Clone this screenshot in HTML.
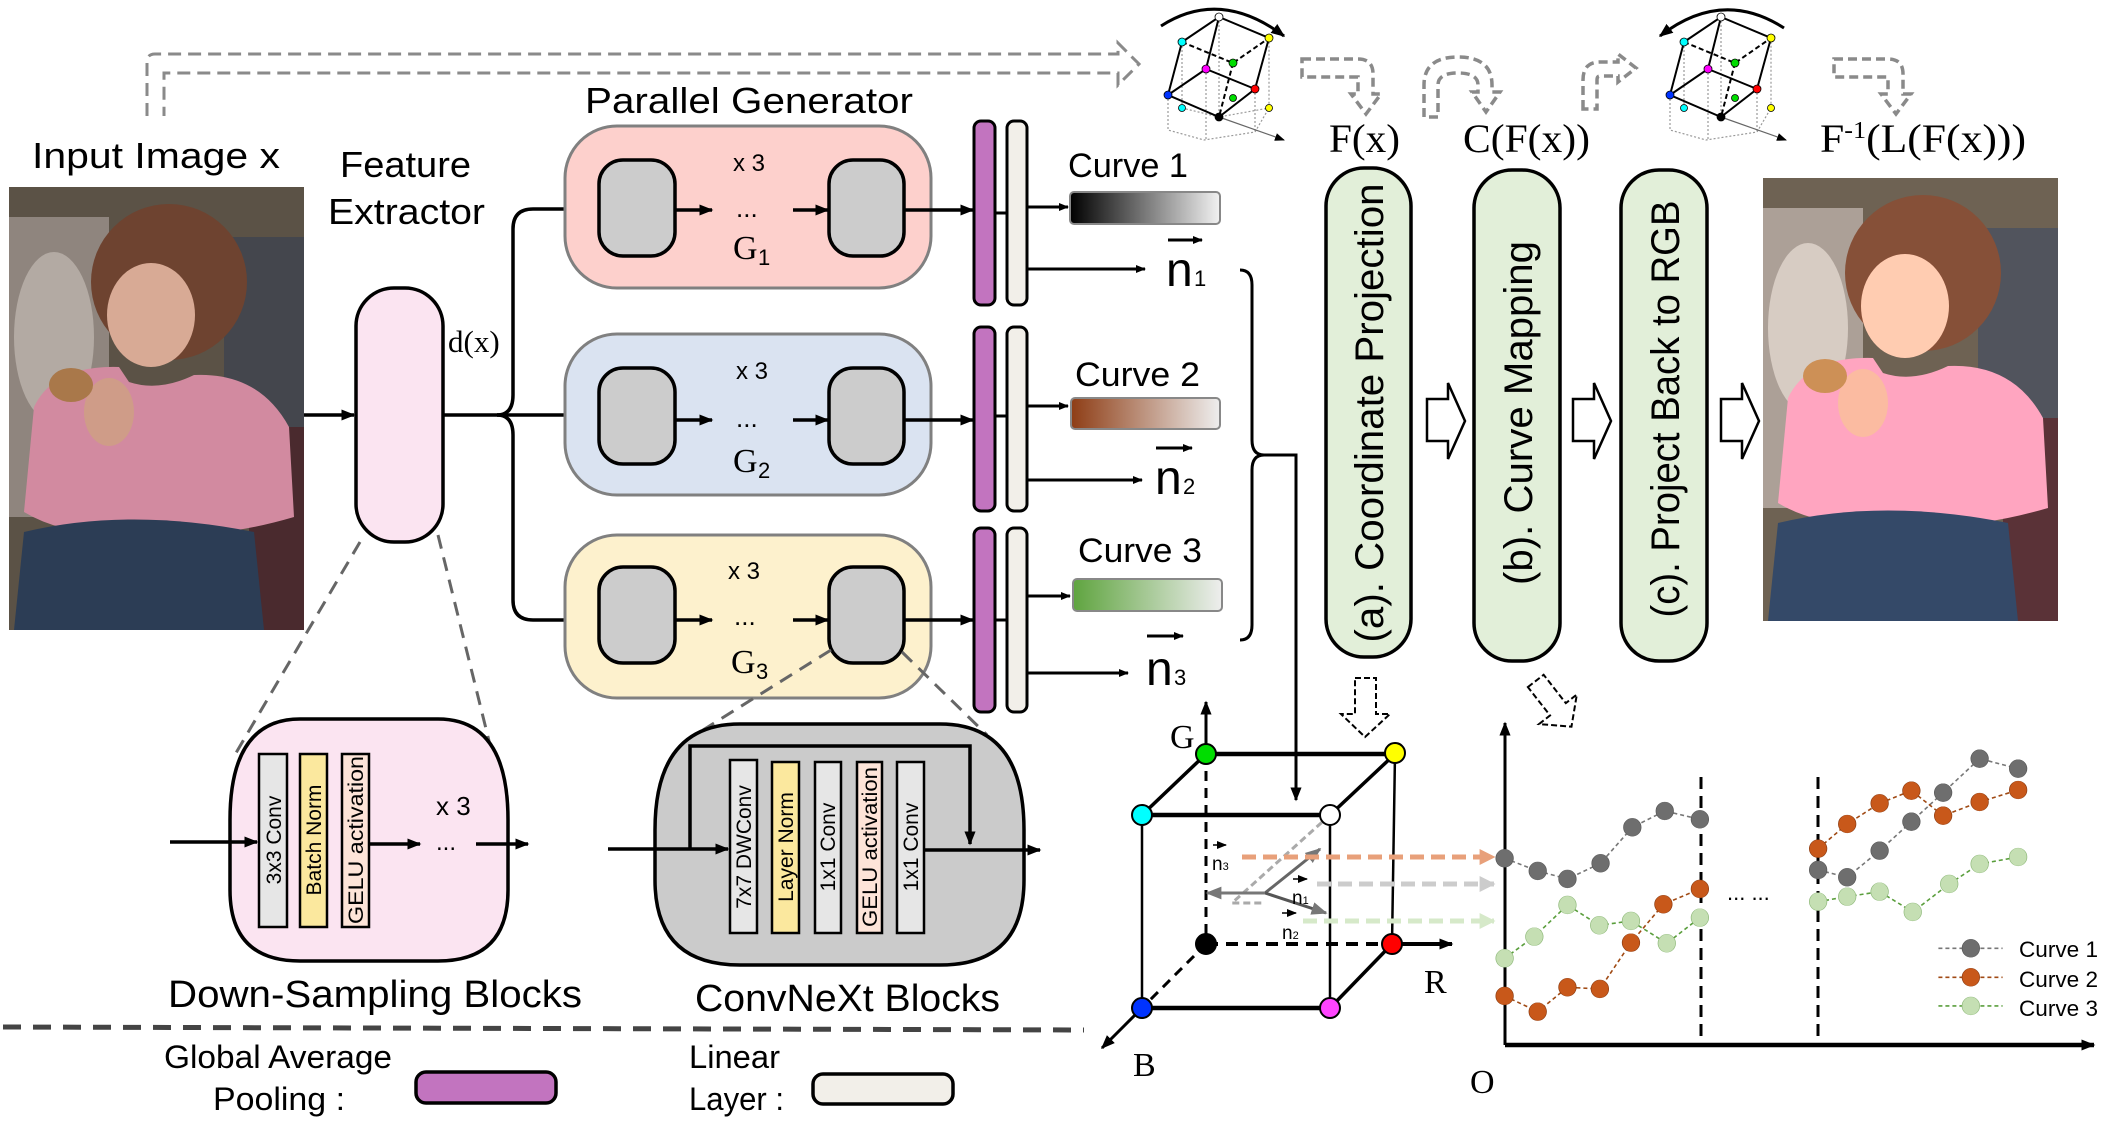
<!DOCTYPE html>
<html><head><meta charset="utf-8"><style>
html,body{margin:0;padding:0;background:#fff}
svg{display:block}
text{font-family:"Liberation Sans",sans-serif}
.serif{font-family:"Liberation Serif",serif}
.dj{font-family:"DejaVu Sans","Liberation Sans",sans-serif}
</style></head><body>
<svg width="2118" height="1128" viewBox="0 0 2118 1128" xmlns="http://www.w3.org/2000/svg">
<defs>
<marker id="a" viewBox="0 0 10 10" refX="9" refY="5" markerWidth="14" markerHeight="14" markerUnits="userSpaceOnUse" orient="auto"><path d="M0,1 L10,5 L0,9 z" fill="#000"/></marker>
<marker id="as" viewBox="0 0 10 10" refX="9" refY="5" markerWidth="10" markerHeight="10" markerUnits="userSpaceOnUse" orient="auto"><path d="M0,1 L10,5 L0,9 z" fill="#000"/></marker>
<marker id="ag" viewBox="0 0 10 10" refX="9" refY="5" markerWidth="16" markerHeight="16" markerUnits="userSpaceOnUse" orient="auto"><path d="M0,1 L10,5 L0,9 z" fill="#777"/></marker>
<marker id="ao" viewBox="0 0 10 10" refX="9" refY="5" markerWidth="16" markerHeight="16" markerUnits="userSpaceOnUse" orient="auto"><path d="M0,0 L10,5 L0,10 z" fill="#e8a07a"/></marker>
<marker id="al" viewBox="0 0 10 10" refX="9" refY="5" markerWidth="16" markerHeight="16" markerUnits="userSpaceOnUse" orient="auto"><path d="M0,0 L10,5 L0,10 z" fill="#ccc"/></marker>
<marker id="agr" viewBox="0 0 10 10" refX="9" refY="5" markerWidth="16" markerHeight="16" markerUnits="userSpaceOnUse" orient="auto"><path d="M0,0 L10,5 L0,10 z" fill="#d6e9c9"/></marker>
<linearGradient id="g1"><stop offset="0" stop-color="#000"/><stop offset="1" stop-color="#f2f2f2"/></linearGradient>
<linearGradient id="g2"><stop offset="0" stop-color="#8e3d15"/><stop offset="1" stop-color="#eeeeee"/></linearGradient>
<linearGradient id="g3"><stop offset="0" stop-color="#5fa43f"/><stop offset="1" stop-color="#eeeeee"/></linearGradient>
<g id="photo">
<rect x="0" y="0" width="295" height="443" fill="#5b5246"/>
<rect x="0" y="30" width="100" height="300" fill="#8f857e"/>
<ellipse cx="45" cy="150" rx="40" ry="85" fill="#b3aaa3"/>
<rect x="215" y="50" width="80" height="200" fill="#44464d"/>
<rect x="240" y="240" width="55" height="203" fill="#4a2a2e"/>
<ellipse cx="160" cy="95" rx="78" ry="78" fill="#6e4330"/>
<ellipse cx="142" cy="128" rx="44" ry="52" fill="#d8aa95"/>
<path d="M25,220 Q45,178 110,180 L120,195 Q150,205 185,188 Q250,185 280,240 L285,330 Q200,355 130,345 Q60,352 15,325 Z" fill="#d28aa0"/>
<ellipse cx="100" cy="225" rx="25" ry="34" fill="#cf9c88"/>
<ellipse cx="62" cy="198" rx="22" ry="17" fill="#a9784a"/>
<path d="M15,345 Q120,320 245,345 L255,443 L5,443 Z" fill="#2c3d55"/>
</g>
</defs>

<path d="M147,116 L147,62 Q147,54 155,54 L1118,54 L1118,43 L1139,64 L1118,85 L1118,73 L164,73 L164,116" fill="none" stroke="#8a8a8a" stroke-width="3" stroke-dasharray="13 7"/>

<text x="32" y="168" font-size="36" textLength="248" lengthAdjust="spacingAndGlyphs">Input Image x</text>
<use href="#photo" transform="translate(9,187)"/>

<text x="340" y="177" font-size="36" textLength="131" lengthAdjust="spacingAndGlyphs">Feature</text>
<text x="328" y="224" font-size="36" textLength="157" lengthAdjust="spacingAndGlyphs">Extractor</text>
<rect x="356" y="288" width="87" height="254" rx="38" fill="#fbe4f1" stroke="#000" stroke-width="3.5"/>
<text x="448" y="352" font-size="31" class="serif">d(x)</text>
<line x1="304" y1="415" x2="354" y2="415" stroke="#000" stroke-width="3.5" marker-end="url(#a)"/>
<path d="M443,415 L497,415 Q513,415 513,395 L513,229 Q513,209 533,209 L594,209" fill="none" stroke="#000" stroke-width="3.5" marker-end="url(#a)"/>
<path d="M497,415 Q513,415 513,435 L513,600 Q513,620 533,620 L594,620" fill="none" stroke="#000" stroke-width="3.5" marker-end="url(#a)"/>
<line x1="497" y1="415" x2="594" y2="415" stroke="#000" stroke-width="3.5" marker-end="url(#a)"/>

<text x="585" y="113" font-size="36" textLength="328" lengthAdjust="spacingAndGlyphs">Parallel Generator</text>

<g>
<rect x="565" y="126" width="366" height="162" rx="52" fill="#fdd0cc" stroke="#808080" stroke-width="3"/>
<rect x="599" y="160" width="76" height="96" rx="24" fill="#cccccc" stroke="#000" stroke-width="3.5"/>
<rect x="829" y="160" width="75" height="96" rx="24" fill="#cccccc" stroke="#000" stroke-width="3.5"/>
<line x1="675" y1="210" x2="712" y2="210" stroke="#000" stroke-width="3.5" marker-end="url(#a)"/>
<line x1="793" y1="210" x2="828" y2="210" stroke="#000" stroke-width="3.5" marker-end="url(#a)"/>
<line x1="904" y1="210" x2="973" y2="210" stroke="#000" stroke-width="3.5" marker-end="url(#a)"/>
<text x="733" y="171" font-size="24">x 3</text>
<text x="736" y="217" font-size="26">...</text>
</g>
<text x="733" y="259" font-size="34" class="serif">G</text><text x="758" y="265" font-size="22">1</text>
<g transform="translate(0,208)">
<rect x="565" y="126" width="366" height="161" rx="52" fill="#dae3f1" stroke="#808080" stroke-width="3"/>
<rect x="599" y="160" width="76" height="96" rx="24" fill="#cccccc" stroke="#000" stroke-width="3.5"/>
<rect x="829" y="160" width="75" height="96" rx="24" fill="#cccccc" stroke="#000" stroke-width="3.5"/>
<line x1="675" y1="212" x2="712" y2="212" stroke="#000" stroke-width="3.5" marker-end="url(#a)"/>
<line x1="793" y1="212" x2="828" y2="212" stroke="#000" stroke-width="3.5" marker-end="url(#a)"/>
<line x1="904" y1="212" x2="973" y2="212" stroke="#000" stroke-width="3.5" marker-end="url(#a)"/>
<text x="736" y="171" font-size="24">x 3</text>
<text x="736" y="219" font-size="26">...</text>
<text x="733" y="264" font-size="34" class="serif">G</text><text x="758" y="270" font-size="22">2</text>
</g>
<g transform="translate(0,409)">
<rect x="565" y="126" width="366" height="163" rx="52" fill="#fdf1cd" stroke="#808080" stroke-width="3"/>
<rect x="599" y="158" width="76" height="96" rx="24" fill="#cccccc" stroke="#000" stroke-width="3.5"/>
<rect x="829" y="158" width="75" height="96" rx="24" fill="#cccccc" stroke="#000" stroke-width="3.5"/>
<line x1="675" y1="211" x2="712" y2="211" stroke="#000" stroke-width="3.5" marker-end="url(#a)"/>
<line x1="793" y1="211" x2="828" y2="211" stroke="#000" stroke-width="3.5" marker-end="url(#a)"/>
<line x1="904" y1="211" x2="973" y2="211" stroke="#000" stroke-width="3.5" marker-end="url(#a)"/>
<text x="728" y="170" font-size="24">x 3</text>
<text x="734" y="216" font-size="26">...</text>
<text x="731" y="264" font-size="34" class="serif">G</text><text x="756" y="270" font-size="22">3</text>
</g>

<g stroke="#000" stroke-width="3">
<rect x="974" y="121" width="21" height="184" rx="7" fill="#c274bf"/>
<rect x="1007" y="121" width="20" height="184" rx="7" fill="#f2efe9"/>
<rect x="974" y="327" width="21" height="184" rx="7" fill="#c274bf"/>
<rect x="1007" y="327" width="20" height="184" rx="7" fill="#f2efe9"/>
<rect x="974" y="528" width="21" height="184" rx="7" fill="#c274bf"/>
<rect x="1007" y="528" width="20" height="184" rx="7" fill="#f2efe9"/>
</g>
<g stroke="#000" stroke-width="3">
<line x1="995" y1="213" x2="1007" y2="213"/><line x1="995" y1="416" x2="1007" y2="416"/><line x1="995" y1="620" x2="1007" y2="620"/>
</g>
<g stroke="#000" stroke-width="3">
<line x1="1027" y1="207" x2="1068" y2="207" marker-end="url(#as)"/>
<line x1="1027" y1="269" x2="1145" y2="269" marker-end="url(#as)"/>
<line x1="1027" y1="406" x2="1068" y2="406" marker-end="url(#as)"/>
<line x1="1027" y1="480" x2="1142" y2="480" marker-end="url(#as)"/>
<line x1="1027" y1="596" x2="1070" y2="596" marker-end="url(#as)"/>
<line x1="1027" y1="673" x2="1128" y2="673" marker-end="url(#as)"/>
</g>
<text x="1068" y="177" font-size="34" textLength="120" lengthAdjust="spacingAndGlyphs">Curve 1</text>
<rect x="1070" y="192" width="150" height="32" rx="4" fill="url(#g1)" stroke="#888" stroke-width="2"/>
<text x="1075" y="386" font-size="34" textLength="125" lengthAdjust="spacingAndGlyphs">Curve 2</text>
<rect x="1071" y="398" width="149" height="31" rx="4" fill="url(#g2)" stroke="#888" stroke-width="2"/>
<text x="1078" y="562" font-size="34" textLength="124" lengthAdjust="spacingAndGlyphs">Curve 3</text>
<rect x="1073" y="579" width="149" height="32" rx="4" fill="url(#g3)" stroke="#888" stroke-width="2"/>

<g font-size="48">
<text x="1166" y="286">n</text><text x="1194" y="286" font-size="22">1</text>
<line x1="1168" y1="240" x2="1202" y2="240" stroke="#000" stroke-width="3" marker-end="url(#as)"/>
<text x="1155" y="494">n</text><text x="1183" y="494" font-size="22">2</text>
<line x1="1156" y1="448" x2="1192" y2="448" stroke="#000" stroke-width="3" marker-end="url(#as)"/>
<text x="1146" y="685">n</text><text x="1174" y="685" font-size="22">3</text>
<line x1="1147" y1="636" x2="1183" y2="636" stroke="#000" stroke-width="3" marker-end="url(#as)"/>
</g>
<path d="M1240,270 Q1252,270 1252,285 L1252,440 Q1252,455 1264,455 Q1252,455 1252,470 L1252,625 Q1252,640 1240,640" fill="none" stroke="#000" stroke-width="3"/>
<path d="M1264,455 L1296,455 L1296,800" fill="none" stroke="#000" stroke-width="3" marker-end="url(#a)"/>

<text x="1329" y="152" font-size="40" class="serif" textLength="71" lengthAdjust="spacingAndGlyphs">F(x)</text>
<text x="1463" y="152" font-size="40" class="serif" textLength="127" lengthAdjust="spacingAndGlyphs">C(F(x))</text>
<text x="1820" y="152" font-size="40" class="serif" textLength="206" lengthAdjust="spacingAndGlyphs">F<tspan font-size="24" dy="-14">-1</tspan><tspan dy="14">(L(F(x)))</tspan></text>
<g stroke="#000" stroke-width="3.5" fill="#e2efd9">
<rect x="1326" y="168" width="85" height="489" rx="38"/>
<rect x="1474" y="170" width="86" height="491" rx="38"/>
<rect x="1621" y="170" width="86" height="491" rx="38"/>
</g>
<g font-size="40" class="dj" text-anchor="middle">
<text transform="translate(1383,413) rotate(-90)" textLength="459" lengthAdjust="spacingAndGlyphs">(a). Coordinate Projection</text>
<text transform="translate(1532,413) rotate(-90)" textLength="344" lengthAdjust="spacingAndGlyphs">(b). Curve Mapping</text>
<text transform="translate(1679,409) rotate(-90)" textLength="417" lengthAdjust="spacingAndGlyphs">(c). Project Back to RGB</text>
</g>
<g fill="#fff" stroke="#000" stroke-width="2.5">
<path d="M1427,399 L1448,399 L1448,383 L1465,421 L1448,459 L1448,441 L1427,441 Z"/>
<path d="M1573,399 L1594,399 L1594,383 L1611,421 L1594,459 L1594,441 L1573,441 Z"/>
<path d="M1721,399 L1742,399 L1742,383 L1759,421 L1742,459 L1742,441 L1721,441 Z"/>
</g>
<use href="#photo" transform="translate(1763,178)" style="filter:brightness(1.2) saturate(1.05)"/>

<g>
<path d="M1161,26 Q1220,-12 1284,36" fill="none" stroke="#000" stroke-width="3" marker-end="url(#a)"/>
<g stroke="#999" stroke-width="1.2" stroke-dasharray="2 2" fill="none">
<path d="M1168,95 L1168,130 L1204,140 L1255,132 L1269,108 L1269,38"/>
<line x1="1182" y1="42" x2="1182" y2="108"/><line x1="1219" y1="17" x2="1219" y2="117"/><line x1="1206" y1="69" x2="1206" y2="140"/><line x1="1255" y1="89" x2="1255" y2="132"/>
<path d="M1182,108 L1219,117 L1269,108"/>
</g>
<line x1="1219" y1="117" x2="1284" y2="140" stroke="#666" stroke-width="1.2" marker-end="url(#as)"/>
<g stroke="#000" stroke-width="2" fill="none">
<path d="M1182,42 L1219,17 L1269,38 L1255,89 L1219,117 L1168,95 L1182,42"/>
<path d="M1219,17 L1206,69 L1168,95 M1206,69 L1255,89"/>
<path d="M1182,42 L1233,63 L1269,38 M1233,63 L1219,117" stroke-dasharray="5 3"/>
</g>
<g stroke="#000" stroke-width="0.8">
<circle cx="1219" cy="17" r="4" fill="#fff"/><circle cx="1269" cy="38" r="4" fill="#ff0"/><circle cx="1182" cy="42" r="4" fill="#0ff"/><circle cx="1206" cy="69" r="4" fill="#f0f"/><circle cx="1233" cy="63" r="4" fill="#0d0"/><circle cx="1168" cy="95" r="4" fill="#03f"/><circle cx="1255" cy="89" r="4" fill="#f00"/><circle cx="1219" cy="117" r="4" fill="#000"/><circle cx="1182" cy="108" r="3.5" fill="#0ff"/><circle cx="1269" cy="108" r="3.5" fill="#ff0"/><circle cx="1233" cy="98" r="3.5" fill="#0d0"/>
</g>
</g>
<g transform="translate(502,0)">
<g stroke="#999" stroke-width="1.2" stroke-dasharray="2 2" fill="none">
<path d="M1168,95 L1168,130 L1204,140 L1255,132 L1269,108 L1269,38"/>
<line x1="1182" y1="42" x2="1182" y2="108"/><line x1="1219" y1="17" x2="1219" y2="117"/><line x1="1206" y1="69" x2="1206" y2="140"/><line x1="1255" y1="89" x2="1255" y2="132"/>
</g>
<line x1="1219" y1="117" x2="1284" y2="140" stroke="#666" stroke-width="1.2" marker-end="url(#as)"/>
<g stroke="#000" stroke-width="2" fill="none">
<path d="M1182,42 L1219,17 L1269,38 L1255,89 L1219,117 L1168,95 L1182,42"/>
<path d="M1219,17 L1206,69 L1168,95 M1206,69 L1255,89"/>
<path d="M1182,42 L1233,63 L1269,38 M1233,63 L1219,117" stroke-dasharray="5 3"/>
</g>
<g stroke="#000" stroke-width="0.8">
<circle cx="1219" cy="17" r="4" fill="#fff"/><circle cx="1269" cy="38" r="4" fill="#ff0"/><circle cx="1182" cy="42" r="4" fill="#0ff"/><circle cx="1206" cy="69" r="4" fill="#f0f"/><circle cx="1233" cy="63" r="4" fill="#0d0"/><circle cx="1168" cy="95" r="4" fill="#03f"/><circle cx="1255" cy="89" r="4" fill="#f00"/><circle cx="1219" cy="117" r="4" fill="#000"/><circle cx="1182" cy="108" r="3.5" fill="#0ff"/><circle cx="1269" cy="108" r="3.5" fill="#ff0"/><circle cx="1233" cy="98" r="3.5" fill="#0d0"/>
</g>
<path d="M1282,28 Q1220,-12 1158,36" fill="none" stroke="#000" stroke-width="3" marker-end="url(#a)"/>
</g>
<g fill="none" stroke="#8a8a8a" stroke-width="3.5" stroke-dasharray="9 5">
<path d="M1302,59 L1358,59 Q1373,59 1373,74 L1373,94 L1381,94 L1366,114 L1351,94 L1358,94 L1358,77 L1302,77 Z"/>
<path d="M1424,117 L1424,85 Q1424,57 1458,57 Q1492,57 1492,85 L1492,92 L1500,92 L1486,112 L1472,92 L1478,92 L1478,85 Q1478,73 1458,73 Q1438,73 1438,85 L1438,117 Z"/>
<path d="M1583,109 L1583,80 Q1583,62 1600,62 L1618,62 L1618,54 L1636,68 L1618,82 L1618,76 L1600,76 Q1597,76 1597,80 L1597,109 Z"/>
<path d="M1834,59 L1888,59 Q1903,59 1903,74 L1903,94 L1911,94 L1896,114 L1881,94 L1888,94 L1888,77 L1834,77 Z"/>
</g>

<g stroke="#666" stroke-width="3" stroke-dasharray="14 9">
<line x1="360" y1="542" x2="233" y2="758"/><line x1="438" y1="535" x2="492" y2="753"/>
<line x1="831" y1="650" x2="703" y2="730"/><line x1="902" y1="652" x2="987" y2="735"/>
</g>
<path d="M230,820 Q230,719 300,719 L438,719 Q508,719 508,820 L508,890 Q508,961 438,961 L300,961 Q230,961 230,890 Z" fill="#fbe4f1" stroke="#000" stroke-width="3.5"/>
<g stroke="#000" stroke-width="2.5">
<rect x="259" y="754" width="28" height="173" fill="#e6e6e6"/>
<rect x="300" y="754" width="27" height="173" fill="#fbe89e"/>
<rect x="342" y="754" width="27" height="173" fill="#fde4d8"/>
</g>
<g font-size="21" class="dj" text-anchor="middle">
<text transform="translate(281,840) rotate(-90)">3x3 Conv</text>
<text transform="translate(321,840) rotate(-90)">Batch Norm</text>
<text transform="translate(363,840) rotate(-90)" textLength="168" lengthAdjust="spacingAndGlyphs">GELU activation</text>
</g>
<line x1="170" y1="842" x2="257" y2="842" stroke="#000" stroke-width="3.5" marker-end="url(#a)"/>
<line x1="369" y1="844" x2="420" y2="844" stroke="#000" stroke-width="3.5" marker-end="url(#a)"/>
<text x="436" y="850" font-size="24">...</text>
<line x1="476" y1="844" x2="528" y2="844" stroke="#000" stroke-width="3.5" marker-end="url(#a)"/>
<text x="436" y="815" font-size="26">x 3</text>

<path d="M655,830 Q655,724 740,724 L940,724 Q1024,724 1024,830 L1024,880 Q1024,965 940,965 L740,965 Q655,965 655,880 Z" fill="#cbcbcb" stroke="#000" stroke-width="3.5"/>
<g stroke="#000" stroke-width="2.5">
<rect x="730" y="760" width="27" height="173" fill="#e6e6e6"/>
<rect x="772" y="762" width="27" height="171" fill="#fbe89e"/>
<rect x="815" y="762" width="26" height="171" fill="#e6e6e6"/>
<rect x="857" y="762" width="25" height="171" fill="#fde4d8"/>
<rect x="897" y="762" width="27" height="171" fill="#e6e6e6"/>
</g>
<g font-size="21" class="dj" text-anchor="middle">
<text transform="translate(751,847) rotate(-90)">7x7 DWConv</text>
<text transform="translate(793,847) rotate(-90)">Layer Norm</text>
<text transform="translate(835,847) rotate(-90)">1x1 Conv</text>
<text transform="translate(877,847) rotate(-90)" textLength="160" lengthAdjust="spacingAndGlyphs">GELU activation</text>
<text transform="translate(918,847) rotate(-90)">1x1 Conv</text>
</g>
<line x1="608" y1="849" x2="728" y2="849" stroke="#000" stroke-width="3.5" marker-end="url(#a)"/>
<path d="M690,849 L690,746 L970,746 L970,844" fill="none" stroke="#000" stroke-width="3.5" marker-end="url(#a)"/>
<line x1="924" y1="850" x2="1040" y2="850" stroke="#000" stroke-width="3.5" marker-end="url(#a)"/>

<text x="168" y="1007" font-size="38" textLength="414" lengthAdjust="spacingAndGlyphs">Down-Sampling Blocks</text>
<text x="695" y="1011" font-size="38" textLength="305" lengthAdjust="spacingAndGlyphs">ConvNeXt Blocks</text>
<line x1="3" y1="1027" x2="1084" y2="1030" stroke="#444" stroke-width="5" stroke-dasharray="18 12"/>
<text x="164" y="1068" font-size="32" textLength="228" lengthAdjust="spacingAndGlyphs">Global Average</text>
<text x="213" y="1110" font-size="32" textLength="132" lengthAdjust="spacingAndGlyphs">Pooling :</text>
<rect x="416" y="1072" width="140" height="31" rx="10" fill="#c274bf" stroke="#000" stroke-width="3.5"/>
<text x="689" y="1068" font-size="32" textLength="91" lengthAdjust="spacingAndGlyphs">Linear</text>
<text x="689" y="1110" font-size="32" textLength="95" lengthAdjust="spacingAndGlyphs">Layer :</text>
<rect x="813" y="1074" width="140" height="30" rx="10" fill="#f2efe9" stroke="#000" stroke-width="3.5"/>

<line x1="1206" y1="754" x2="1206" y2="702" stroke="#000" stroke-width="3" marker-end="url(#a)"/>
<line x1="1392" y1="944" x2="1452" y2="944" stroke="#000" stroke-width="4" marker-end="url(#a)"/>
<line x1="1142" y1="1008" x2="1102" y2="1048" stroke="#000" stroke-width="3" marker-end="url(#a)"/>
<g stroke="#000" fill="none">
<line x1="1206" y1="754" x2="1206" y2="944" stroke-width="3" stroke-dasharray="10 7"/>
<line x1="1206" y1="944" x2="1392" y2="944" stroke-width="4" stroke-dasharray="12 8"/>
<line x1="1206" y1="944" x2="1142" y2="1008" stroke-width="3" stroke-dasharray="10 7"/>
<line x1="1206" y1="754" x2="1395" y2="754" stroke-width="4.5"/>
<line x1="1142" y1="815" x2="1330" y2="815" stroke-width="4.5"/>
<line x1="1142" y1="1008" x2="1330" y2="1008" stroke-width="4.5"/>
<line x1="1206" y1="754" x2="1142" y2="815" stroke-width="3.5"/>
<line x1="1395" y1="754" x2="1330" y2="815" stroke-width="3.5"/>
<line x1="1392" y1="944" x2="1330" y2="1008" stroke-width="3.5"/>
<line x1="1142" y1="815" x2="1142" y2="1008" stroke-width="2.5"/>
<line x1="1330" y1="815" x2="1330" y2="1008" stroke-width="2.5"/>
<line x1="1395" y1="754" x2="1392" y2="944" stroke-width="2.5"/>
</g>
<g fill="none" stroke-width="3">
<path d="M1330,815 L1232,903 L1265,903" stroke="#aaa" stroke-dasharray="7 4"/>
<line x1="1265" y1="893" x2="1320" y2="849" stroke="#666" marker-end="url(#ag)"/>
<line x1="1265" y1="893" x2="1326" y2="913" stroke="#555" marker-end="url(#ag)"/>
<line x1="1265" y1="893" x2="1207" y2="893" stroke="#777" marker-end="url(#ag)"/>
</g>
<g stroke-width="5" stroke-dasharray="14 7">
<line x1="1242" y1="857" x2="1494" y2="857" stroke="#e8a07a" marker-end="url(#ao)"/>
<line x1="1317" y1="884" x2="1494" y2="884" stroke="#ccc" marker-end="url(#al)"/>
<line x1="1303" y1="921" x2="1494" y2="921" stroke="#d6e9c9" marker-end="url(#agr)"/>
</g>
<g font-size="19">
<text x="1212" y="870">n<tspan font-size="11">3</tspan></text>
<line x1="1213" y1="845" x2="1226" y2="845" stroke="#000" stroke-width="1.5" marker-end="url(#as)"/>
<text x="1292" y="904">n<tspan font-size="11">1</tspan></text>
<line x1="1293" y1="879" x2="1307" y2="879" stroke="#000" stroke-width="1.5" marker-end="url(#as)"/>
<text x="1282" y="939">n<tspan font-size="11">2</tspan></text>
<line x1="1282" y1="913" x2="1296" y2="913" stroke="#000" stroke-width="1.5" marker-end="url(#as)"/>
</g>
<g stroke="#000" stroke-width="2">
<ellipse cx="1206" cy="754" rx="10" ry="10" fill="#0d0"/>
<ellipse cx="1395" cy="753" rx="10" ry="10" fill="#ff0"/>
<ellipse cx="1142" cy="815" rx="10" ry="10" fill="#0ff"/>
<ellipse cx="1330" cy="815" rx="10" ry="10" fill="#fff"/>
<ellipse cx="1206" cy="944" rx="10" ry="10" fill="#000"/>
<ellipse cx="1392" cy="944" rx="10" ry="10" fill="#f00"/>
<ellipse cx="1142" cy="1008" rx="10" ry="10" fill="#03f"/>
<ellipse cx="1330" cy="1008" rx="10" ry="10" fill="#f4f"/>
</g>
<text x="1170" y="748" font-size="34" class="serif">G</text>
<text x="1424" y="993" font-size="34" class="serif">R</text>
<text x="1133" y="1076" font-size="34" class="serif">B</text>

<path d="M1355,678 L1376,678 L1376,714 L1390,714 L1365,737 L1341,714 L1355,714 Z" fill="#fff" stroke="#000" stroke-width="2" stroke-dasharray="6 3"/>
<g transform="translate(1553,703) rotate(-38)">
<path d="M-10,-28 L10,-28 L10,8 L24,8 L0,30 L-24,8 L-10,8 Z" fill="#fff" stroke="#000" stroke-width="2" stroke-dasharray="6 3"/>
</g>

<line x1="1505" y1="1045" x2="1505" y2="723" stroke="#000" stroke-width="3" marker-end="url(#a)"/>
<line x1="1505" y1="1045" x2="2094" y2="1045" stroke="#000" stroke-width="4.5" marker-end="url(#a)"/>
<line x1="1701" y1="777" x2="1701" y2="1042" stroke="#000" stroke-width="3" stroke-dasharray="12 7"/>
<line x1="1818" y1="777" x2="1818" y2="1042" stroke="#000" stroke-width="3" stroke-dasharray="12 7"/>
<text x="1727" y="900" font-size="22">... ...</text>
<text x="1470" y="1093" font-size="34" class="serif">O</text>
<g transform="translate(1060,640) scale(0.6757,0.3333)">
<g fill="none" stroke-width="1.6" stroke-dasharray="4 3">
<polyline vector-effect="non-scaling-stroke" stroke="#777" points="658,655 707,693 751,717 800,670 847,562 895,513 947,538"/>
<polyline vector-effect="non-scaling-stroke" stroke="#777" points="1122,690 1165,712 1213,632 1260,545 1307,458 1361,356 1418,386"/>
<polyline vector-effect="non-scaling-stroke" stroke="#a04a14" points="658,1068 707,1115 751,1042 799,1047 845,908 893,793 947,747"/>
<polyline vector-effect="non-scaling-stroke" stroke="#a04a14" points="1122,626 1165,552 1213,490 1260,452 1307,527 1361,486 1418,450"/>
<polyline vector-effect="non-scaling-stroke" stroke="#5a9e3c" points="658,955 702,890 751,795 798,856 845,843 898,910 947,833"/>
<polyline vector-effect="non-scaling-stroke" stroke="#5a9e3c" points="1122,785 1165,770 1213,755 1262,816 1316,732 1361,672 1418,651"/>
<line vector-effect="non-scaling-stroke" stroke="#777" x1="1300" y1="925" x2="1395" y2="925"/>
<line vector-effect="non-scaling-stroke" stroke="#a04a14" x1="1300" y1="1012" x2="1395" y2="1012"/>
<line vector-effect="non-scaling-stroke" stroke="#5a9e3c" x1="1300" y1="1098" x2="1395" y2="1098"/>
</g>
<g fill="#6e6e6e" stroke="#555" stroke-width="1">
<ellipse cx="658" cy="655" rx="13" ry="27"/><ellipse cx="707" cy="693" rx="13" ry="27"/><ellipse cx="751" cy="717" rx="13" ry="27"/><ellipse cx="800" cy="670" rx="13" ry="27"/><ellipse cx="847" cy="562" rx="13" ry="27"/><ellipse cx="895" cy="513" rx="13" ry="27"/><ellipse cx="947" cy="538" rx="13" ry="27"/>
<ellipse cx="1122" cy="690" rx="13" ry="27"/><ellipse cx="1165" cy="712" rx="13" ry="27"/><ellipse cx="1213" cy="632" rx="13" ry="27"/><ellipse cx="1260" cy="545" rx="13" ry="27"/><ellipse cx="1307" cy="458" rx="13" ry="27"/><ellipse cx="1361" cy="356" rx="13" ry="27"/><ellipse cx="1418" cy="386" rx="13" ry="27"/>
<ellipse cx="1348" cy="925" rx="13" ry="27"/>
</g>
<g fill="#c8581a" stroke="#8a3a10" stroke-width="1">
<ellipse cx="658" cy="1068" rx="13" ry="27"/><ellipse cx="707" cy="1115" rx="13" ry="27"/><ellipse cx="751" cy="1042" rx="13" ry="27"/><ellipse cx="799" cy="1047" rx="13" ry="27"/><ellipse cx="845" cy="908" rx="13" ry="27"/><ellipse cx="893" cy="793" rx="13" ry="27"/><ellipse cx="947" cy="747" rx="13" ry="27"/>
<ellipse cx="1122" cy="626" rx="13" ry="27"/><ellipse cx="1165" cy="552" rx="13" ry="27"/><ellipse cx="1213" cy="490" rx="13" ry="27"/><ellipse cx="1260" cy="452" rx="13" ry="27"/><ellipse cx="1307" cy="527" rx="13" ry="27"/><ellipse cx="1361" cy="486" rx="13" ry="27"/><ellipse cx="1418" cy="450" rx="13" ry="27"/>
<ellipse cx="1348" cy="1012" rx="13" ry="27"/>
</g>
<g fill="#c5dfb3" stroke="#8db878" stroke-width="1">
<ellipse cx="658" cy="955" rx="13" ry="27"/><ellipse cx="702" cy="890" rx="13" ry="27"/><ellipse cx="751" cy="795" rx="13" ry="27"/><ellipse cx="798" cy="856" rx="13" ry="27"/><ellipse cx="845" cy="843" rx="13" ry="27"/><ellipse cx="898" cy="910" rx="13" ry="27"/><ellipse cx="947" cy="833" rx="13" ry="27"/>
<ellipse cx="1122" cy="785" rx="13" ry="27"/><ellipse cx="1165" cy="770" rx="13" ry="27"/><ellipse cx="1213" cy="755" rx="13" ry="27"/><ellipse cx="1262" cy="816" rx="13" ry="27"/><ellipse cx="1316" cy="732" rx="13" ry="27"/><ellipse cx="1361" cy="672" rx="13" ry="27"/><ellipse cx="1418" cy="651" rx="13" ry="27"/>
<ellipse cx="1348" cy="1098" rx="13" ry="27"/>
</g>
</g>
<text x="2019" y="957" font-size="22" textLength="79" lengthAdjust="spacingAndGlyphs">Curve 1</text>
<text x="2019" y="987" font-size="22" textLength="79" lengthAdjust="spacingAndGlyphs">Curve 2</text>
<text x="2019" y="1016" font-size="22" textLength="79" lengthAdjust="spacingAndGlyphs">Curve 3</text>
</svg>
</body></html>
